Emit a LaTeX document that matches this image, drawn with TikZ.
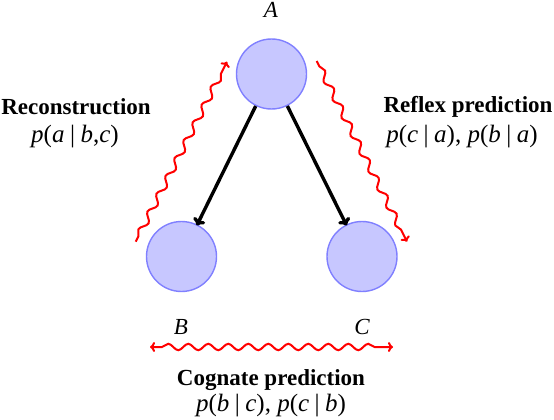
\documentclass[tikz,border=0pt]{standalone}
\usepackage{fontspec}
\setmainfont{Liberation Serif}
\usetikzlibrary{decorations.pathmorphing,arrows.meta}
\newcommand{\vb}{\hspace{0.22em}|\hspace{0.22em}}
\newcommand{\iv}[1]{\textit{#1}\/}
\begin{document}
\begin{tikzpicture}[x=1pt,y=-1pt,
  statenode/.style={circle,minimum size=70pt,inner sep=0pt,fill=blue!22,draw=blue!50,line width=1.4pt},
  lbl/.style={font=\fontsize{23}{28}\selectfont,anchor=base,inner sep=0pt},
  mth/.style={font=\fontsize{25}{30}\selectfont,anchor=base,inner sep=0pt},
  flow/.style={line width=3.4pt,-{To[length=7pt,width=13pt]},shorten >=-1pt},
  wavy/.style={red,line width=2pt,decorate,decoration={snake,segment length=20pt,amplitude=3.2pt,pre length=6pt,post length=9pt}},
  tip/.style={-{To[length=5pt,width=10pt]}}]
\useasboundingbox (0,0) rectangle (554,420);
\node[statenode] (A) at (271.5,74) {};
\node[statenode] (B) at (181.5,256.5) {};
\node[statenode] (C) at (362,256.5) {};
\node[lbl] (lA) at (271,18) {\itshape A};
\node[lbl] (lB) at (181,334) {\itshape B};
\node[lbl] (lC) at (362,334) {\itshape C};
\draw[flow] (A) -- (B);
\draw[flow] (A) -- (C);
\coordinate (l1) at (135.7,241.7);
\coordinate (l2) at (227,61.7);
\coordinate (r1) at (316.7,61);
\coordinate (r2) at (407,241.7);
\coordinate (b1) at (150,347);
\coordinate (b2) at (393,347);
\draw[wavy,tip] (l1) -- (l2);
\draw[wavy,tip] (r1) -- (r2);
\draw[wavy,{To[length=5pt,width=10pt]}-{To[length=5pt,width=10pt]},decoration={pre length=12pt}] (b1) -- (b2);
\node[lbl] (t1) at (76,114) {\bfseries Reconstruction};
\node[mth] (m1) at (75,142) {\iv{p}(\iv{a}\vb\iv{b},\iv{c})};
\node[lbl] (t2) at (468,112) {\bfseries Reflex prediction};
\node[mth] (m2) at (462,142) {\iv{p}(\iv{c}\vb\iv{a}), \iv{p}(\iv{b}\vb\iv{a})};
\node[lbl] (t3) at (271,385) {\bfseries Cognate prediction};
\node[mth] (m3) at (271,411) {\iv{p}(\iv{b}\vb\iv{c}), \iv{p}(\iv{c}\vb\iv{b})};
\end{tikzpicture}
\end{document}
